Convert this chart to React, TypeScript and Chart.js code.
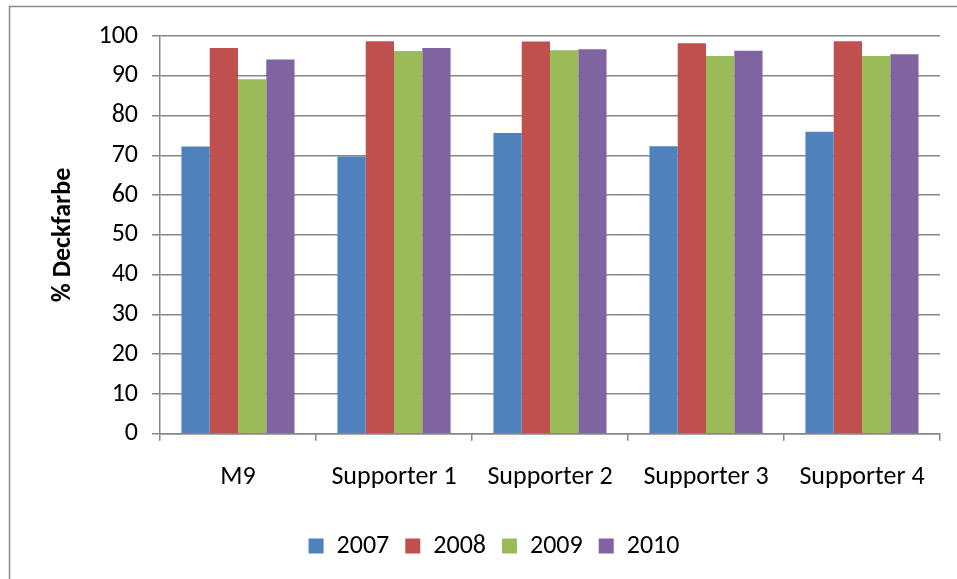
import React, { useEffect, useRef } from 'react';
import { Chart, registerables } from 'chart.js';

Chart.register(...registerables);

// Coverage values (% Deckfarbe) per rootstock and year
const categories = ['M9', 'Supporter 1', 'Supporter 2', 'Supporter 3', 'Supporter 4'];
const years = ['2007', '2008', '2009', '2010'];
const values2007 = [72.2, 69.7, 75.6, 72.3, 75.9];
const values2008 = [97.0, 98.7, 98.6, 98.2, 98.7];
const values2009 = [89.1, 96.2, 96.4, 95.0, 95.0];
const values2010 = [94.1, 97.0, 96.7, 96.3, 95.4];
const seriesColors = ['#4F81BD', '#C0504D', '#9BBB59', '#8064A2'];
const yAxisTitle = '% Deckfarbe';

const FONT_FAMILY = 'Carlito, Lato, "Liberation Sans", sans-serif';
const FONT_SIZE = 26;
const AXIS_GRAY = '#878787';

// Outer frame of the chart area (only top and left edges fall inside the canvas)
const framePlugin = {
  id: 'frame',
  beforeDraw(chart: any) {
    const { ctx, width, height } = chart;
    ctx.save();
    ctx.fillStyle = '#ffffff';
    ctx.fillRect(0, 0, width, height);
    ctx.strokeStyle = '#8c8c8c';
    ctx.lineWidth = 1.5;
    ctx.beginPath();
    ctx.moveTo(9.5, height + 2);
    ctx.lineTo(9.5, 6.5);
    ctx.lineTo(width + 2, 6.5);
    ctx.stroke();
    ctx.restore();
  },
};

export default function App() {
  const canvasRef = useRef<HTMLCanvasElement | null>(null);

  useEffect(() => {
    const canvas = canvasRef.current;
    if (!canvas) return;
    const seriesValues = [values2007, values2008, values2009, values2010];
    const chart = new Chart(canvas, {
      type: 'bar',
      data: {
        labels: categories,
        datasets: years.map((year, i) => ({
          label: year,
          data: seriesValues[i],
          backgroundColor: seriesColors[i],
          borderWidth: 0,
          categoryPercentage: 0.725,
          barPercentage: 1.0,
        })),
      },
      options: {
        animation: false,
        responsive: false,
        devicePixelRatio: 1,
        layout: { padding: { left: 48, top: 36, right: 17, bottom: 10 } },
        plugins: {
          legend: {
            position: 'bottom',
            labels: {
              boxWidth: 15,
              boxHeight: 15,
              padding: 16,
              color: '#000000',
              font: { family: FONT_FAMILY, size: FONT_SIZE },
            },
          },
          tooltip: { enabled: false },
        },
        scales: {
          x: {
            grid: {
              display: true,
              drawOnChartArea: false,
              drawTicks: true,
              tickLength: 7,
              offset: true,
              color: AXIS_GRAY,
              lineWidth: 1.5,
            },
            border: { display: true, color: AXIS_GRAY, width: 1.5 },
            ticks: {
              color: '#000000',
              font: { family: FONT_FAMILY, size: FONT_SIZE },
              padding: 21,
              maxRotation: 0,
            },
            afterFit: (scale: any) => {
              scale.height = scale.height + 3;
            },
          },
          y: {
            min: 0,
            max: 100,
            ticks: {
              stepSize: 10,
              color: '#000000',
              font: { family: FONT_FAMILY, size: FONT_SIZE },
              padding: 14,
            },
            grid: {
              color: AXIS_GRAY,
              lineWidth: 1.5,
              drawTicks: true,
              tickLength: 8,
            },
            border: { display: true, color: AXIS_GRAY, width: 1.5 },
            title: {
              display: true,
              text: yAxisTitle,
              color: '#000000',
              font: { family: FONT_FAMILY, size: FONT_SIZE, weight: 'bold' },
              padding: { top: 0, bottom: 0 },
            },
            afterFit: (scale: any) => {
              scale.width = 112;
            },
          },
        },
      },
      plugins: [framePlugin],
    });
    return () => chart.destroy();
  }, []);

  return (
    <div style={{ position: 'absolute', left: 0, top: 0, width: 957, height: 579 }}>
      <canvas ref={canvasRef} width={957} height={579} style={{ display: 'block' }} />
    </div>
  );
}
